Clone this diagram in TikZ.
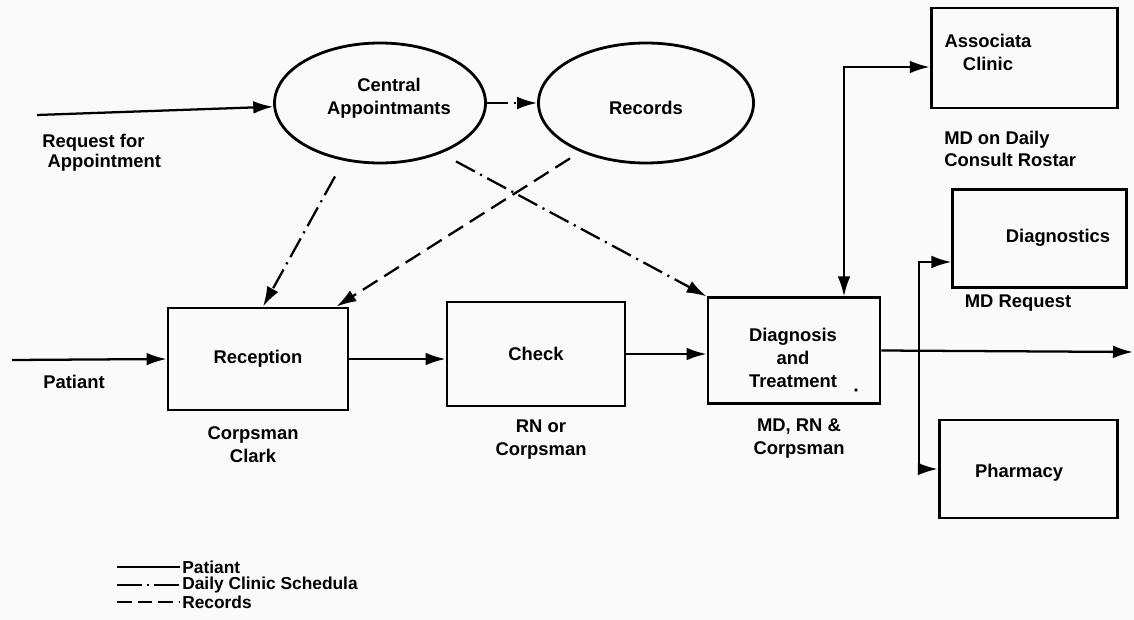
\documentclass[tikz,border=0pt]{standalone}
\usepackage{fontspec}
\setmainfont{Liberation Sans}
\usetikzlibrary{arrows.meta,shapes.geometric,calc}
\begin{document}
\begin{tikzpicture}[x=0.75pt,y=-0.75pt,
  font=\fontsize{13.8}{17.25}\selectfont\bfseries,
  >={Latex[length=15pt,width=9.5pt]},
  box/.style={draw,line width=2.1pt,inner sep=0pt,align=center},
  oval/.style={draw,ellipse,line width=2.1pt,inner sep=0pt},
  txt/.style={inner sep=0pt,align=center},
  pat/.style={line width=1.7pt},
  sched/.style={line width=1.7pt,dash pattern=on 16pt off 4.5pt on 1.6pt off 4.5pt},
  recs/.style={line width=1.7pt,dash pattern=on 13pt off 6pt}]

% page
\fill[white!98!black] (0,0) rectangle (1134,620);
\useasboundingbox (0,0) rectangle (1134,620);

% scheduling ovals
\node[oval,minimum width=158.25pt,minimum height=90pt] (ca) at (380,103) {};
\node[txt] (catext) at (389,98.5) {Central\\Appointmants};
\node[oval,minimum width=161.25pt,minimum height=90pt] (rec) at (646,103) {};
\node[txt] (rectext) at (646,108) {Records};

% patient flow boxes
\node[box,minimum width=135pt,minimum height=76.5pt] (reception) at (258,359) {Reception};
\node[box,minimum width=133.5pt,minimum height=78pt] (check) at (536,354) {Check};
\node[box,minimum width=129pt,minimum height=79pt] (diag) at (794,350.5) {};
\node[txt] (diagtext) at (793,358) {Diagnosis\\and\\Treatment};
\fill (856,390) circle (1.8);

\node[box,minimum width=140pt,minimum height=75pt] (assoc) at (1024.5,58) {};
\node[txt] (assoctext) at (988,52) {Associata\\Clinic};
\node[box,minimum width=130pt,minimum height=73pt] (dgn) at (1039.5,238.5) {};
\node[txt] (dgntext) at (1058,238) {Diagnostics};
\node[box,minimum width=134pt,minimum height=73.5pt] (pharm) at (1028.5,469) {};
\node[txt] (pharmtext) at (1019,473) {Pharmacy};

% staffing and other labels
\node[txt,align=left,anchor=west,font=\fontsize{13.8}{15}\selectfont\bfseries] (reqlbl) at (42,153) {Request for\\\hspace{4pt}Appointment};
\node[txt] (patlbl) at (74,382) {Patiant};
\node[txt] (reclbl) at (253,445) {Corpsman\\Clark};
\node[txt] (chklbl) at (541,440) {RN or\\Corpsman};
\node[txt] (diaglbl) at (799,439) {MD, RN \&\\Corpsman};
\node[txt,align=left,anchor=west,font=\fontsize{13.8}{16.5}\selectfont\bfseries] (assoclbl) at (944,149) {MD on Daily\\Consult Rostar};
\node[txt] (dgnlbl) at (1018,303) {MD Request};

% free ends
\coordinate (req) at (37,115);
\coordinate (pin) at (12,360);
\coordinate (out) at (1133,352);
\coordinate (tee) at (844,67);
\coordinate (fork) at (919,262);

% patient flow
\draw[pat,->] (req) -- (ca);
\draw[pat,->] (pin) -- (reception.west);
\draw[pat,->] (reception.east) -- (reception.east -| check.west);
\draw[pat,->] (check.east) -- (check.east -| diag.west);
\draw[pat,->] (diag.east) -- (out);
\draw[pat,<->] (diag.north -| tee) -- (tee) -- (assoc.west |- tee);
\draw[pat,<->] (dgn.west |- fork) -- (fork) |- (pharm.west);

% daily clinic schedule
\draw[sched,->] (ca) -- (rec);
\draw[sched,->] ($(ca.south)+(-45,12)$) -- ($(reception.north)+(5,0)$);
\draw[sched,->] ($(ca.south)+(76,-3)$) -- (diag.north west);

% records
\draw[recs,->] ($(rec.south)+(-76,-6)$) -- ($(reception.north east)+(-13,0)$);

% legend
\begin{scope}[font=\fontsize{13}{15}\selectfont\bfseries]
\coordinate (l1) at (117,567);
\coordinate (l2) at (117,585);
\coordinate (l3) at (117,602);
\draw[line width=1.5pt] (l1) -- ++(63,0) node[txt,anchor=west,xshift=1pt] (lg1) {Patiant};
\draw[line width=1.5pt,dash pattern=on 19pt off 3.5pt on 1.5pt off 3.5pt] (l2) -- ++(63,0) node[txt,anchor=west,xshift=1pt] (lg2) {Daily Clinic Schedula};
\draw[line width=1.5pt,dash pattern=on 11pt off 4.5pt] (l3) -- ++(63,0) node[txt,anchor=west,xshift=1pt] (lg3) {Records};
\end{scope}
\end{tikzpicture}
\end{document}
